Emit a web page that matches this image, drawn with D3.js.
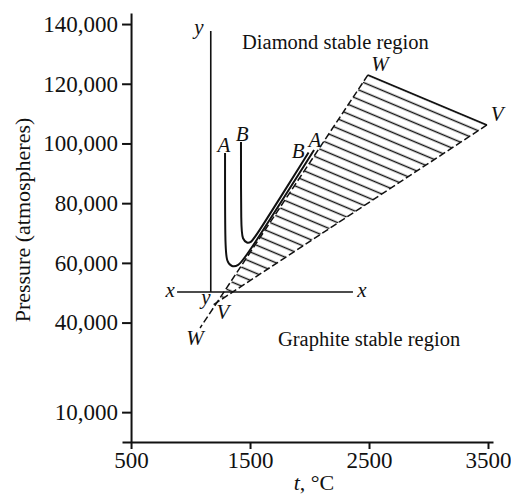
<!DOCTYPE html>
<html>
<head>
  <meta charset="utf-8">
  <title>Diamond / graphite phase diagram</title>
  <style>
    body { margin: 0; background: #fff; }
    svg { display: block; }
    text { font-family: "Liberation Serif", "Times New Roman", serif; fill: #111; }
    .axis text { font-size: 23px; }
    .axis path, .axis line { stroke: #111; stroke-width: 2; }
    .letter { font-style: italic; font-size: 21px; text-anchor: middle; }
    .region { font-size: 20.5px; }
  </style>
</head>
<body>
  <div class="chart-container"></div>
  <script src="https://cdn.jsdelivr.net/npm/d3@7/dist/d3.min.js"></script>
  <script>
    // axis ticks
    var xTicks = [500, 1500, 2500, 3500];
    var yTicks = [10000, 40000, 60000, 80000, 100000, 120000, 140000];

    // curves A and B, [t °C, pressure atm]
    var curveA = [[1290, 96800], [1290, 65000], [1305, 60300], [1347, 58600], [1399, 59000], [1458, 61300], [2038, 97800]];
    var curveB = [[1424, 100500], [1424, 71000], [1437, 68000], [1475, 66500], [1508, 67000], [1534, 67840], [1992, 96980]];

    // boundary lines W and V, and the hatched band between them
    var wLine = [[2491, 122950], [1080, 38190]];
    var vLine = [[3491, 106200], [1189, 45900]];
    var topEdge = [[2491, 122950], [3491, 106200]];
    var hatchBand = [[2491, 122950], [3491, 106200], [1239, 47200]];

    // inner x/y reference axes
    var innerX = [[887, 50250], [2365, 50250]];
    var innerY = [[1170, 50250], [1170, 137700]];

    var letters = [
      { text: 'y', t: 1071, p: 136700 },
      { text: 'x', t: 828, p: 48575 },
      { text: 'x', t: 2441, p: 48575 },
      { text: 'y', t: 1130, p: 46230 },
      { text: 'V', t: 1273, p: 41200 },
      { text: 'W', t: 1038, p: 32500 },
      { text: 'W', t: 2592, p: 124300 },
      { text: 'V', t: 3576, p: 107500 },
      { text: 'A', t: 1281, p: 97150 },
      { text: 'B', t: 1433, p: 100800 },
      { text: 'B', t: 1905, p: 95140 },
      { text: 'A', t: 2046, p: 98800 }
    ];
    var regions = [
      { text: 'Diamond stable region', t: 1433, p: 131650 },
      { text: 'Graphite stable region', t: 1735, p: 32160 }
    ];

    var width = 511, height = 495;

    var x = d3.scaleLinear().domain([424, 3542]).range([122, 493]);
    var y = d3.scaleLinear().domain([0, 143700]).range([442, 13]);

    var svg = d3.select('.chart-container').append('svg')
      .attr('width', width)
      .attr('height', height);

    var line = d3.line()
      .x(function (d) { return x(d[0]); })
      .y(function (d) { return y(d[1]); });

    // hatch pattern aligned with the top edge W-V
    var x0 = x(topEdge[0][0]), y0 = y(topEdge[0][1]);
    var angle = Math.atan2(y(topEdge[1][1]) - y0, x(topEdge[1][0]) - x0) * 180 / Math.PI;
    var gap = 8.7;
    svg.append('defs').append('pattern')
      .attr('id', 'hatch')
      .attr('patternUnits', 'userSpaceOnUse')
      .attr('width', 60)
      .attr('height', gap)
      .attr('patternTransform', 'translate(' + x0 + ',' + y0 + ') rotate(' + angle + ') translate(0,' + (-gap / 2) + ')')
      .append('line')
      .attr('x1', 0).attr('x2', 60)
      .attr('y1', gap / 2).attr('y2', gap / 2)
      .style('stroke', '#111')
      .style('stroke-width', 1.4);

    svg.append('path')
      .attr('d', line(hatchBand) + 'Z')
      .style('fill', 'url(#hatch)');

    // dashed boundaries
    [wLine, vLine].forEach(function (l) {
      svg.append('path')
        .attr('d', line(l))
        .style('fill', 'none')
        .style('stroke', '#111')
        .style('stroke-width', 1.5)
        .style('stroke-dasharray', '7,3');
    });

    svg.append('path')
      .attr('d', line(topEdge))
      .style('fill', 'none')
      .style('stroke', '#111')
      .style('stroke-width', 1.6);

    // inner axes
    [innerX, innerY].forEach(function (l) {
      svg.append('path')
        .attr('d', line(l))
        .style('fill', 'none')
        .style('stroke', '#111')
        .style('stroke-width', 1.6);
    });

    // curves A and B
    var smooth = d3.line()
      .curve(d3.curveBasis)
      .x(function (d) { return x(d[0]); })
      .y(function (d) { return y(d[1]); });

    [curveA, curveB].forEach(function (c) {
      svg.append('path')
        .attr('d', smooth(c))
        .style('fill', 'none')
        .style('stroke', '#111')
        .style('stroke-width', 2);
    });

    svg.selectAll('.letter')
      .data(letters)
      .enter().append('text')
      .attr('class', 'letter')
      .attr('x', function (d) { return x(d.t); })
      .attr('y', function (d) { return y(d.p); })
      .text(function (d) { return d.text; });

    svg.selectAll('.region')
      .data(regions)
      .enter().append('text')
      .attr('class', 'region')
      .attr('x', function (d) { return x(d.t); })
      .attr('y', function (d) { return y(d.p); })
      .text(function (d) { return d.text; });

    // main axes
    var yAxis = d3.axisLeft(y)
      .tickValues(yTicks)
      .tickFormat(d3.format(','))
      .tickSize(9)
      .tickSizeOuter(0)
      .tickPadding(4);

    var xAxis = d3.axisBottom(x)
      .tickValues(xTicks)
      .tickFormat(d3.format('d'))
      .tickSize(7)
      .tickSizeOuter(0)
      .tickPadding(3);

    svg.append('g')
      .attr('class', 'axis')
      .attr('transform', 'translate(' + x(500) + ',0)')
      .call(yAxis);

    svg.append('g')
      .attr('class', 'axis')
      .attr('transform', 'translate(0,' + y(0) + ')')
      .call(xAxis);

    svg.selectAll('.axis .domain').attr('stroke', '#111');

    svg.append('text')
      .attr('transform', 'translate(30,220) rotate(-90)')
      .attr('text-anchor', 'middle')
      .style('font-size', '22px')
      .text('Pressure (atmospheres)');

    var xTitle = svg.append('text')
      .attr('x', 314)
      .attr('y', 490)
      .attr('text-anchor', 'middle')
      .style('font-size', '22px');
    xTitle.append('tspan').style('font-style', 'italic').text('t');
    xTitle.append('tspan').text(', °C');
  </script>
</body>
</html>
